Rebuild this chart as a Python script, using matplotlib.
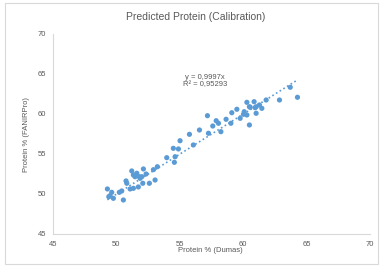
import matplotlib
matplotlib.use("Agg")
import matplotlib.pyplot as plt
import numpy as np
from matplotlib.patches import Rectangle

plt.rcParams['font.family'] = ['Liberation Sans', 'DejaVu Sans']

# Reference (Dumas) protein %
dumas = [49.29, 49.63, 49.50, 49.76, 49.40, 50.55, 50.42, 50.23, 51.08, 51.34,
         51.73, 52.08, 52.60, 50.76, 50.82, 51.21, 51.61, 51.81, 51.47, 51.34,
         52.13, 52.92, 53.05, 53.23, 51.87, 55.76, 55.02, 56.07, 54.49, 54.89,
         53.97, 54.63, 54.57, 52.34, 52.00, 57.18, 57.87, 58.05, 57.60, 58.65,
         59.10, 59.50, 60.08, 59.76, 59.03, 60.49, 60.49, 56.55, 57.26, 58.24,
         63.71, 64.28, 62.86, 61.81, 60.86, 60.29, 60.55, 61.02, 61.28, 60.94,
         61.47, 60.02, 60.29, 61.02]
# Predicted (FANIRPro) protein %
predicted = [50.63, 50.21, 49.79, 49.46, 49.66, 49.25, 50.38, 50.21, 50.63, 50.71,
             50.88, 51.34, 51.34, 51.63, 51.34, 52.88, 52.59, 52.16, 52.16, 52.38,
             53.13, 53.04, 51.75, 53.41, 51.96, 57.46, 56.66, 56.13, 55.71, 55.63,
             54.54, 54.66, 53.96, 52.50, 52.16, 59.79, 59.16, 58.84, 58.50, 59.34,
             60.16, 60.59, 60.29, 59.46, 58.84, 60.91, 58.63, 58.00, 57.59, 57.79,
             63.34, 62.09, 61.75, 61.75, 61.54, 61.46, 60.84, 60.91, 61.13, 60.79,
             60.71, 59.96, 59.88, 60.09]
slope = 0.9997
x_ticks = [45, 50, 55, 60, 65, 70]
y_ticks = [45, 50, 55, 60, 65, 70]

title = "Predicted Protein (Calibration)"
xlabel = "Protein % (Dumas)"
ylabel = "Protein % (FANIRPro)"
eq_text = "y = 0,9997x\nR\u00b2 = 0,95293"

blue = "#5B9BD5"
gray_txt = "#595959"
gray_line = "#D9D9D9"

fig = plt.figure(figsize=(3.81, 2.67), dpi=100)
ax = fig.add_axes([53/381, 1-234/267, (370-53)/381, (234-34)/267])

ax.scatter(dumas, predicted, s=14, color=blue, edgecolors='none', zorder=3)
xs = np.array([min(dumas), max(dumas)])
ax.plot(xs, slope*xs, linestyle=(0, (1, 1.6)), color=blue, linewidth=1.2, zorder=2)

ax.set_xlim(45, 70)
ax.set_ylim(45, 70)
ax.set_xticks(x_ticks)
ax.set_yticks(y_ticks)
ax.tick_params(length=0, labelsize=5.5, colors=gray_txt, pad=5)
for s in ['top', 'right']:
    ax.spines[s].set_visible(False)
for s in ['left', 'bottom']:
    ax.spines[s].set_color(gray_line)
    ax.spines[s].set_linewidth(0.8)

fig.text(196/381, 1-17/267, title, ha='center', va='center', fontsize=7.5, color=gray_txt)
fig.text(210/381, 1-251/267, xlabel, ha='center', va='center', fontsize=5.5, color=gray_txt)
fig.text(27/381, 1-135/267, ylabel, ha='center', va='center', rotation=90, fontsize=5.5, color=gray_txt)
fig.text(205/381, 1-81/267, eq_text, ha='center', va='center', fontsize=5.5, color=gray_txt,
         linespacing=1.0)

fig.patches.append(Rectangle((5/381, 3/267), 373/381, 261/267, transform=fig.transFigure,
                             fill=False, edgecolor=gray_line, linewidth=0.8))

fig.savefig("out.png", dpi=100)
